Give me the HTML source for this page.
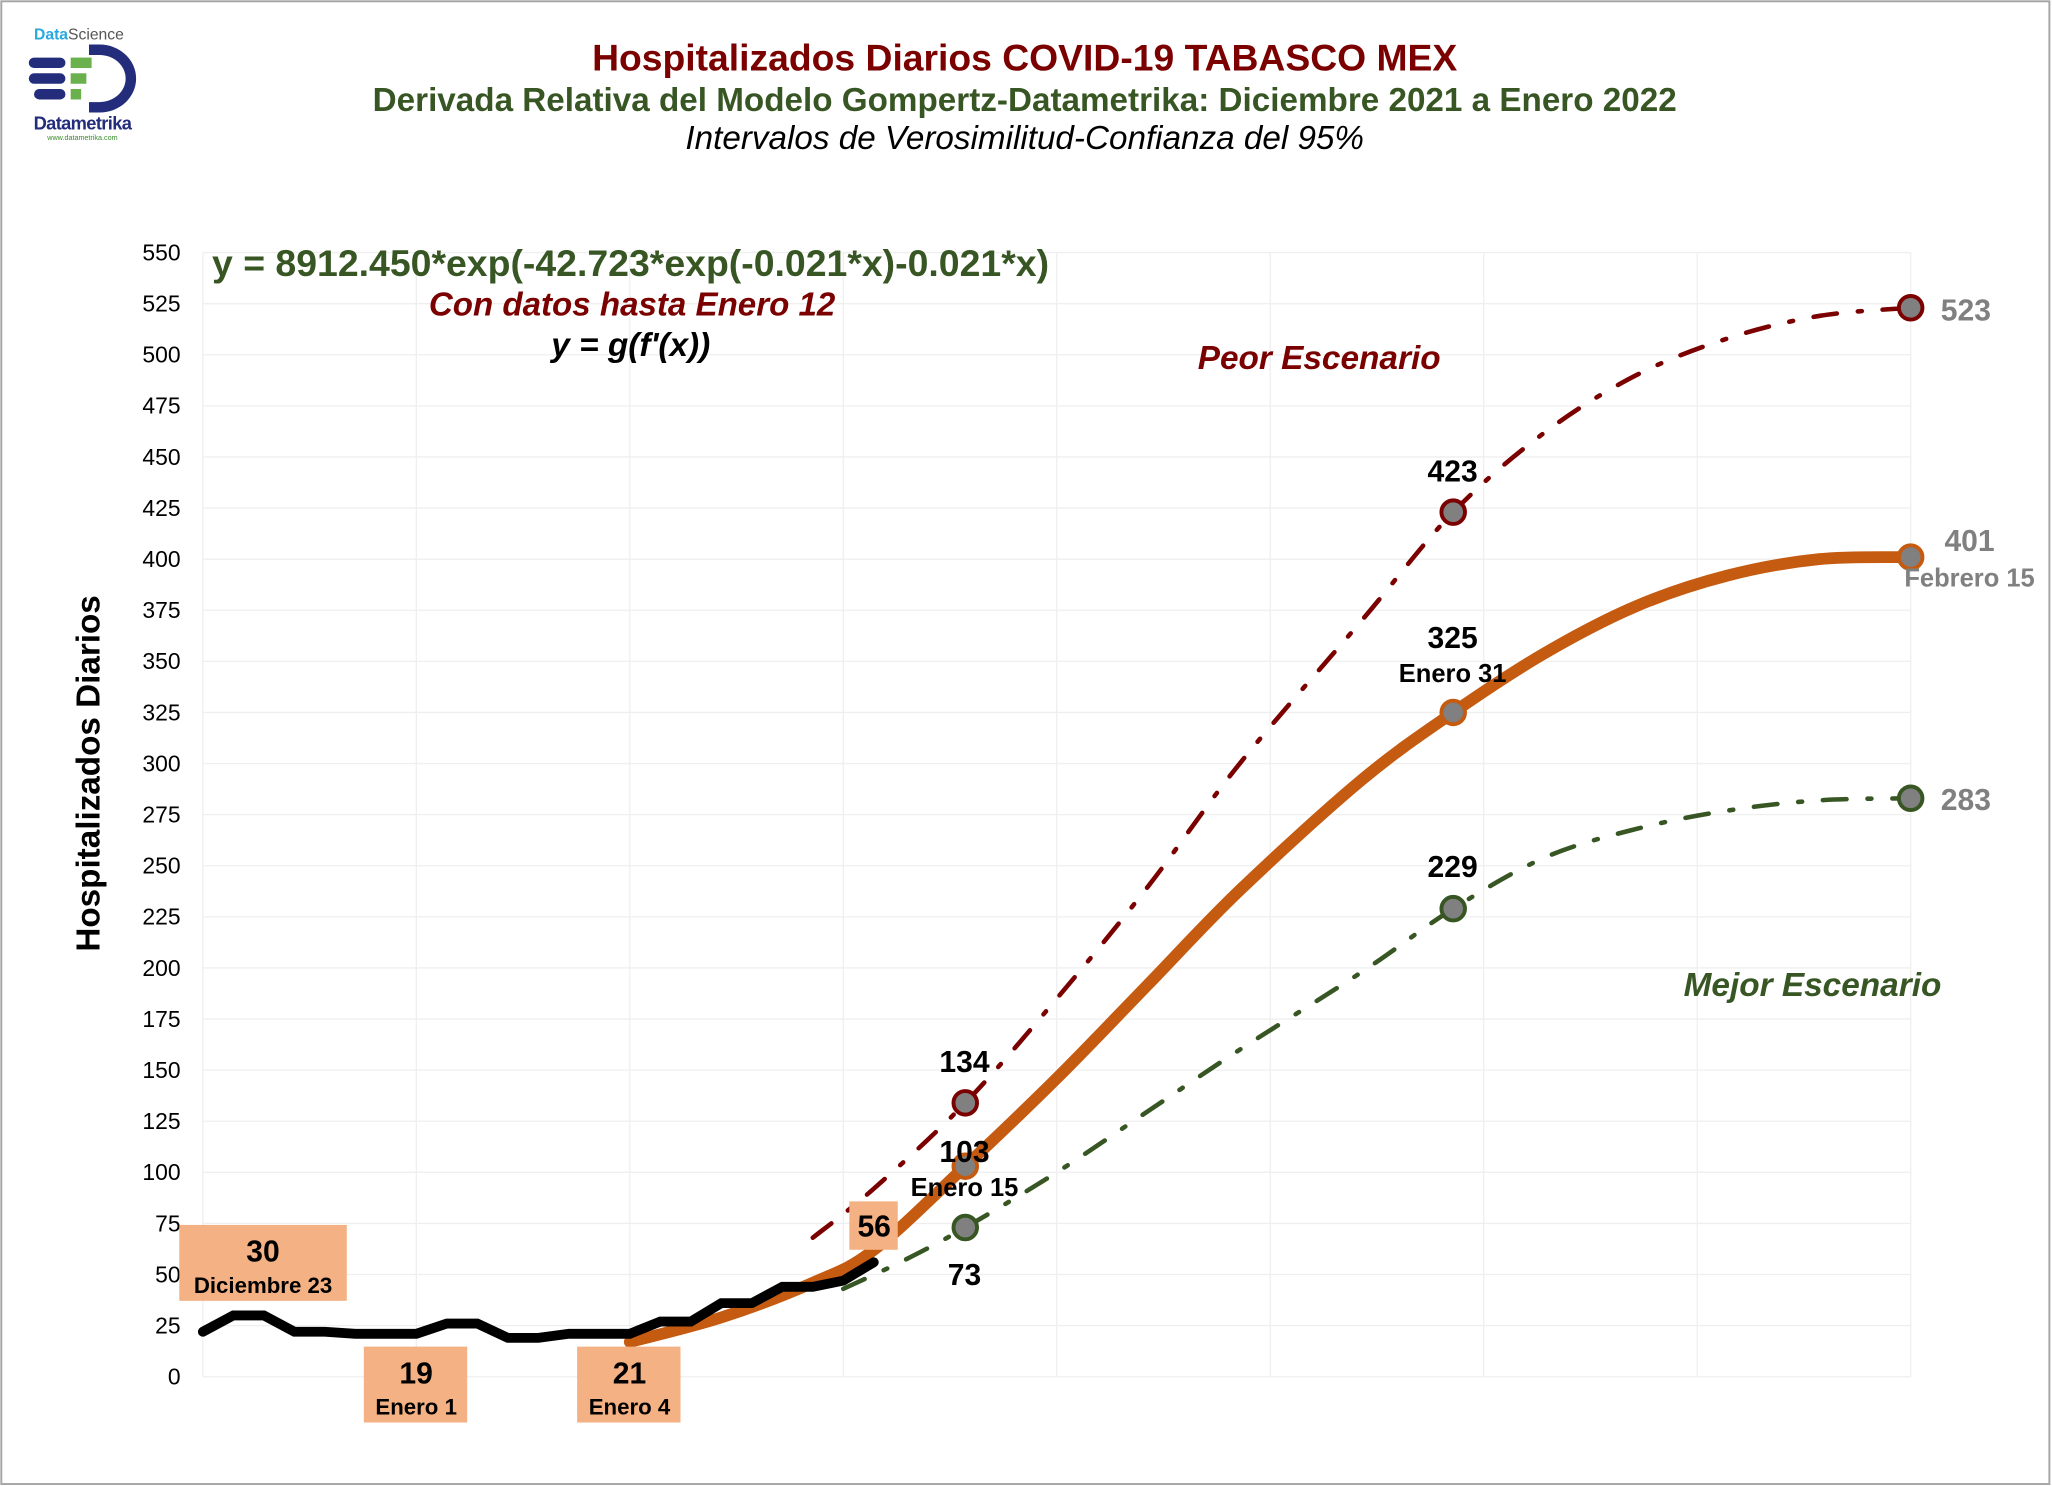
<!DOCTYPE html>
<html><head><meta charset="utf-8"><style>
html,body{margin:0;padding:0;background:#fff}
svg{display:block;font-family:"Liberation Sans",Arial,sans-serif}
</style></head><body>
<svg id="chart" width="2052" height="1486" viewBox="0 0 1568 1135.5" xmlns="http://www.w3.org/2000/svg">
<rect x="1" y="1" width="1565" height="1133" fill="#fff" stroke="#a6a6a6" stroke-width="1.5"/>
<g>
<text x="26" y="30" font-size="12" fill="#29a8e0" font-weight="bold">Data<tspan fill="#555" font-weight="normal">Science</tspan></text>
<path d="M68 34 h8 a28 26 0 0 1 0 52 h-8 v-8 h8 a20 18 0 0 0 0 -36 h-8z" fill="#232d7c"/>
<rect x="22" y="44" width="28" height="8" rx="4" fill="#232d7c"/>
<rect x="22" y="56" width="28" height="8" rx="4" fill="#232d7c"/>
<rect x="26" y="68" width="24" height="8" rx="4" fill="#232d7c"/>
<rect x="54" y="44" width="16" height="8" fill="#6ab04c"/>
<rect x="54" y="56" width="12" height="8" fill="#6ab04c"/>
<rect x="54" y="68" width="8" height="8" fill="#6ab04c"/>
<text x="63" y="99" font-size="14" font-weight="bold" fill="#232d7c" text-anchor="middle" letter-spacing="-0.5">Datametrika</text>
<text x="63" y="107" font-size="5.5" fill="#3a8a2a" text-anchor="middle">www.datametrika.com</text>
</g>
<text x="783" y="54" font-size="28.5" font-weight="bold" fill="#7b0000" text-anchor="middle">Hospitalizados Diarios COVID-19 TABASCO MEX</text>
<text x="783" y="85" font-size="25.4" font-weight="bold" fill="#375623" text-anchor="middle">Derivada Relativa del Modelo Gompertz-Datametrika: Diciembre 2021 a Enero 2022</text>
<text x="783" y="114" font-size="25.4" font-style="italic" fill="#000" text-anchor="middle">Intervalos de Verosimilitud-Confianza del 95%</text>
<g id="grid"></g>
<g id="yticks"></g>
<text transform="translate(76,591) rotate(-90)" font-size="25.4" font-weight="bold" text-anchor="middle">Hospitalizados Diarios</text>
<g id="series"></g>
<g id="labels"></g>
<text x="162" y="211" font-size="28.6" font-weight="bold" fill="#375623">y = 8912.450*exp(-42.723*exp(-0.021*x)-0.021*x)</text>
<text x="483" y="241" font-size="25.3" font-weight="bold" font-style="italic" fill="#7b0000" text-anchor="middle">Con datos hasta Enero 12</text>
<text x="482" y="272" font-size="25.5" font-weight="bold" font-style="italic" fill="#000" text-anchor="middle">y = g(f'(x))</text>
<text x="1008" y="282" font-size="25.5" font-weight="bold" font-style="italic" fill="#7b0000" text-anchor="middle">Peor Escenario</text>
<text x="1385" y="761" font-size="25.5" font-weight="bold" font-style="italic" fill="#375623" text-anchor="middle">Mejor Escenario</text>
</svg>
<script>
const yTicks=[0,25,50,75,100,125,150,175,200,225,250,275,300,325,350,375,400,425,450,475,500,525,550];
const xGridDays=[0,7,14,21,28,35,42,49,56];
const obsDays=[0,1,2,3,4,5,6,7,8,9,10,11,12,13,14,15,16,17,18,19,20,21,22];
const obsValues=[22,30,30,22,22,21,21,21,26,26,19,19,21,21,21,27,27,36,36,44,44,47,56];
const fitDays=[14,17,20,22,25,28,31,34,38,41,44,47,50,53,56];
const fitValues=[17,29,46,62,103,146,192,238,292,325,354,377,392,400,401];
const upDays=[20,22,25,28,31,34,38,41,44,47,50,53,56];
const upValues=[68,92,134,185,240,300,370,423,462,490,508,519,523];
const loDays=[21,23,25,28,31,34,38,41,44,47,50,53,56];
const loValues=[43,57,73,100,130,160,198,229,254,268,277,282,283];
const NS='http://www.w3.org/2000/svg';
const X0=155,X1=1460,Y0=1052,Y1=193;
function xs(d){return X0+(X1-X0)*d/56;}
function ys(v){return Y0-(Y0-Y1)*v/550;}
function mk(tag,attrs,parent){const e=document.createElementNS(NS,tag);for(const k in attrs)e.setAttribute(k,attrs[k]);parent.appendChild(e);return e;}
const grid=document.getElementById('grid'),yt=document.getElementById('yticks');
yTicks.forEach(v=>{
 const l=mk('line',{x1:X0,x2:X1,y1:ys(v),y2:ys(v),stroke:'#efefef','stroke-width':1},grid);
 
 
 const t=mk('text',{x:138,y:ys(v)+6,'font-size':17.5,'text-anchor':'end'},yt);
 t.textContent=v;
 
 
});
xGridDays.forEach(d=>{
 const l=mk('line',{x1:xs(d),x2:xs(d),y1:Y1,y2:Y0,stroke:'#efefef','stroke-width':1},grid);
 
 
});
function smooth(days,vals){
 const p=days.map((d,i)=>[xs(d),ys(vals[i])]);
 let s='M'+p[0][0]+' '+p[0][1];
 for(let i=0;i<p.length-1;i++){
  const a=p[i-1]||p[i],b=p[i],c=p[i+1],d=p[i+2]||c;
  s+=' C'+(b[0]+(c[0]-a[0])/6)+' '+(b[1]+(c[1]-a[1])/6)+' '+(c[0]-(d[0]-b[0])/6)+' '+(c[1]-(d[1]-b[1])/6)+' '+c[0]+' '+c[1];
 }
 return s;
}
const S=document.getElementById('series');
const up=mk('path',{d:smooth(upDays,upValues),fill:'none',stroke:'#7b0000','stroke-width':3.5,'stroke-dasharray':'18 16 3 16','stroke-linecap':'round'},S);


const lo=mk('path',{d:smooth(loDays,loValues),fill:'none',stroke:'#375623','stroke-width':3.5,'stroke-dasharray':'18 16 3 16','stroke-linecap':'round'},S);


const fit=mk('path',{d:smooth(fitDays,fitValues),fill:'none',stroke:'#c55a11','stroke-width':9,'stroke-linecap':'round'},S);


const obs=mk('polyline',{points:obsDays.map((d,i)=>xs(d)+','+ys(obsValues[i])).join(' '),fill:'none',stroke:'#000','stroke-width':7.5,'stroke-linecap':'round','stroke-linejoin':'miter'},S);


function marker(d,v,col){
 const c=mk('circle',{cx:xs(d),cy:ys(v),r:9,fill:'#808080',stroke:col,'stroke-width':3},S);
 
 
}
marker(25,134,'#7b0000');marker(41,423,'#7b0000');marker(56,523,'#7b0000');
marker(25,103,'#c55a11');marker(41,325,'#c55a11');marker(56,401,'#c55a11');
marker(25,73,'#375623');marker(41,229,'#375623');marker(56,283,'#375623');
const L=document.getElementById('labels');
function txt(x,y,s,size,fill,anchor){
 const t=mk('text',{x:x,y:y,'font-size':size,'font-weight':'bold',fill:fill,'text-anchor':anchor||'middle'},L);
 t.textContent=s;
 
 
}
function box(x,y,w,h){
 const r=mk('rect',{x:x,y:y,width:w,height:h,fill:'#f4b183'},L);
 
 
}
box(137,936,128,58);txt(201,964,'30',23,'#000');txt(201,988,'Diciembre 23',17,'#000');
box(278,1029,79,58);txt(318,1057,'19',23,'#000');txt(318,1081,'Enero 1',17,'#000');
box(441,1029,79,58);txt(481,1057,'21',23,'#000');txt(481,1081,'Enero 4',17,'#000');
box(649,918,37,37);txt(668,945,'56',23,'#000');
txt(737,819,'134',23,'#000');
txt(737,888,'103',23,'#000');txt(737,914,'Enero 15',19.5,'#000');
txt(737,982,'73',23,'#000');
txt(1110,368,'423',23,'#000');
txt(1110,495,'325',23,'#000');txt(1110,521,'Enero 31',19.5,'#000');
txt(1110,670,'229',23,'#000');
txt(1483,245,'523',23,'#808080','start');
txt(1505,421,'401',23,'#808080');txt(1505,448,'Febrero 15',19.5,'#808080');
txt(1483,619,'283',23,'#808080','start');
</script>
</body></html>
